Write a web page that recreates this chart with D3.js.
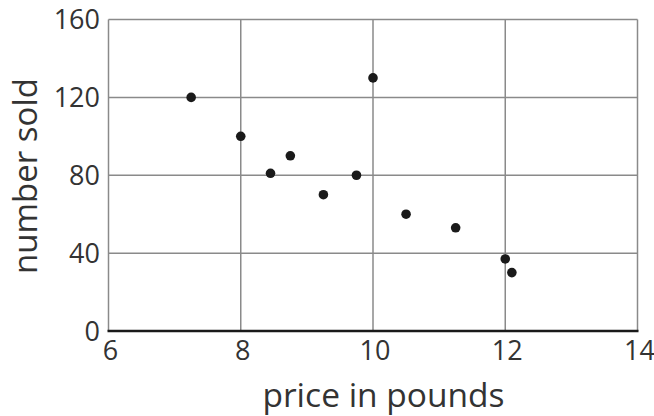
<!DOCTYPE html>
<html><head><meta charset="utf-8">
<script src="https://cdn.jsdelivr.net/npm/d3@7"></script>
<style>body{margin:0;background:#fff}text{font-family:"Open Sans",sans-serif;fill:#333}</style>
</head><body><svg id="c" width="654" height="416"></svg>
<script>
const prices = [7.25, 8, 8.45, 8.75, 9.25, 9.75, 10, 10.5, 11.25, 12, 12.1];
const sold   = [120, 100, 81, 90, 70, 80, 130, 60, 53, 37, 30];
const xTicks = [6, 8, 10, 12, 14];
const yTicks = [0, 40, 80, 120, 160];
const xTitle = "price in pounds";
const yTitle = "number sold";

const svg = d3.select("#c");
const m = {l:108.5, r:637.5, t:19.5, b:331};
const x = d3.scaleLinear().domain([6,14]).range([m.l, m.r]);
const y = d3.scaleLinear().domain([0,160]).range([m.b, m.t]);

const grid = svg.append("g").attr("stroke","#8a8a8a").attr("stroke-width",1.5);
grid.selectAll(".v").data(xTicks).join("line")
  .attr("x1",d=>x(d)).attr("x2",d=>x(d)).attr("y1",m.t).attr("y2",m.b);
grid.selectAll(".h").data(yTicks.slice(1)).join("line")
  .attr("y1",d=>y(d)).attr("y2",d=>y(d)).attr("x1",m.l).attr("x2",m.r);

svg.append("line").attr("x1",m.l-1).attr("x2",m.r+1).attr("y1",m.b).attr("y2",m.b)
  .attr("stroke","#1a1a1a").attr("stroke-width",2.5);

svg.append("g").selectAll("text").data(yTicks).join("text")
  .attr("x",100).attr("y",d=>y(d)).attr("dy","0.36em").attr("text-anchor","end")
  .attr("font-size",27).text(d=>d);
svg.append("g").selectAll("text").data(xTicks).join("text")
  .attr("x",d=>x(d)+2).attr("y",360).attr("text-anchor","middle")
  .attr("font-size",27).text(d=>d);

svg.append("text").attr("x",383.5).attr("y",407).attr("text-anchor","middle")
  .attr("font-size",33.5).text(xTitle);
svg.append("text").attr("transform","translate(37,176) rotate(-90)").attr("text-anchor","middle")
  .attr("font-size",33).text(yTitle);

svg.append("g").selectAll("circle").data(prices).join("circle")
  .attr("cx",(d)=>x(d)).attr("cy",(d,i)=>y(sold[i])).attr("r",4.8).attr("fill","#1a1a1a");
</script></body></html>
